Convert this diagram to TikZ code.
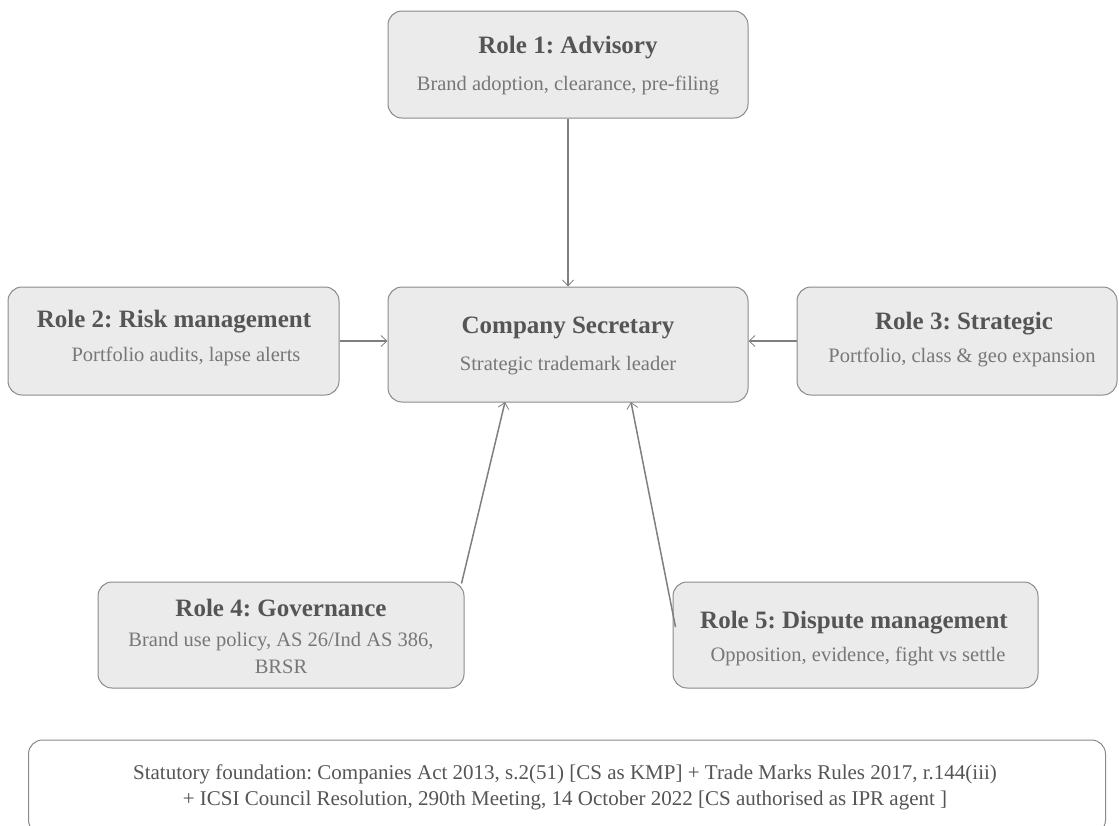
\documentclass[tikz,border=0pt]{standalone}
\usepackage{fontspec}
\setmainfont{Liberation Serif}
\frenchspacing
\usetikzlibrary{arrows.meta,calc}
\definecolor{boxfill}{HTML}{EBEBEC}
\definecolor{boxline}{HTML}{8A8A8A}
\definecolor{titlegray}{HTML}{555555}
\definecolor{subgray}{HTML}{777777}
\definecolor{arrowgray}{HTML}{7F7F7F}
\tikzset{
  box/.style={draw=boxline, fill=boxfill, rounded corners=14pt, line width=1pt, inner sep=0pt},
  notebox/.style={draw=boxline, fill=white, rounded corners=14pt, line width=1pt, inner sep=0pt},
  ttl/.style={font=\fontsize{25}{30}\selectfont\bfseries, text=titlegray, anchor=base, inner sep=0pt},
  sub/.style={font=\fontsize{20.5}{25}\selectfont, text=subgray, anchor=base, inner sep=0pt},
  note/.style={font=\fontsize{21}{25}\selectfont, text=titlegray, anchor=base, inner sep=0pt},
  conn/.style={draw=arrowgray, line width=1.5pt, -{Straight Barb[length=6pt,width=11pt,line width=0.8pt]}}
}
\begin{document}
\begin{tikzpicture}[x=1pt,y=-1pt]
\useasboundingbox (0,0) rectangle (1119,825);
\begin{scope}
\clip (0,0) rectangle (1119,825);
% boxes
\node[box, minimum width=360pt, minimum height=107pt] (r1) at (568,64.5) {};
\node[box, minimum width=360pt, minimum height=115pt] (cs) at (568,344.5) {};
\node[box, minimum width=331pt, minimum height=108pt] (r2) at (173.5,341) {};
\node[box, minimum width=320pt, minimum height=108pt] (r3) at (957,341) {};
\node[box, minimum width=366pt, minimum height=106pt] (r4) at (281,635) {};
\node[box, minimum width=365pt, minimum height=106pt] (r5) at (855.5,635) {};
\node[notebox, minimum width=1077pt, minimum height=94pt] (nb) at (567,787) {};
% texts
\node[ttl] (r1t) at (568,53) {Role 1: Advisory};
\node[sub] (r1s) at (568,90) {Brand adoption, clearance, pre-filing};
\node[ttl] (cst) at (568,333) {Company Secretary};
\node[sub] (css) at (568,370) {Strategic trademark leader};
\node[ttl] (r2t) at (174,327) {Role 2: Risk management};
\node[sub] (r2s) at (186,361) {Portfolio audits, lapse alerts};
\node[ttl] (r3t) at (964,329) {Role 3: Strategic};
\node[sub] (r3s) at (962,362) {Portfolio, class \& geo expansion};
\node[ttl] (r4t) at (281,616) {Role 4: Governance};
\node[sub] (r4s) at (281,646) {Brand use policy, AS 26/Ind AS 386,};
\node[sub] (r4s2) at (281,673) {BRSR};
\node[ttl] (r5t) at (854,628) {Role 5: Dispute management};
\node[sub] (r5s) at (858,661) {Opposition, evidence, fight vs settle};
\node[note] (n1) at (565,779) {Statutory foundation: Companies Act 2013, s.2(51) [CS as KMP] + Trade Marks Rules 2017, r.144(iii)};
\node[note] (n2) at (565,805) {+ ICSI Council Resolution, 290th Meeting, 14 October 2022 [CS authorised as IPR agent ]};
% connectors
\coordinate (r4c) at ($(r4.north east)+(-3,2)$);
\coordinate (r5c) at ($(r5.west)+(3,-8)$);
\coordinate (csb4) at (505,402);
\coordinate (csb5) at (631,402);
\draw[conn] (r1.south) -- (cs.north);
\draw[conn] (r2.east) -- (r2.east -| cs.west);
\draw[conn] (r3.west) -- (r3.west -| cs.east);
\draw[conn] (r4c) -- (csb4);
\draw[conn] (r5c) -- (csb5);
\end{scope}
\end{tikzpicture}
\end{document}
